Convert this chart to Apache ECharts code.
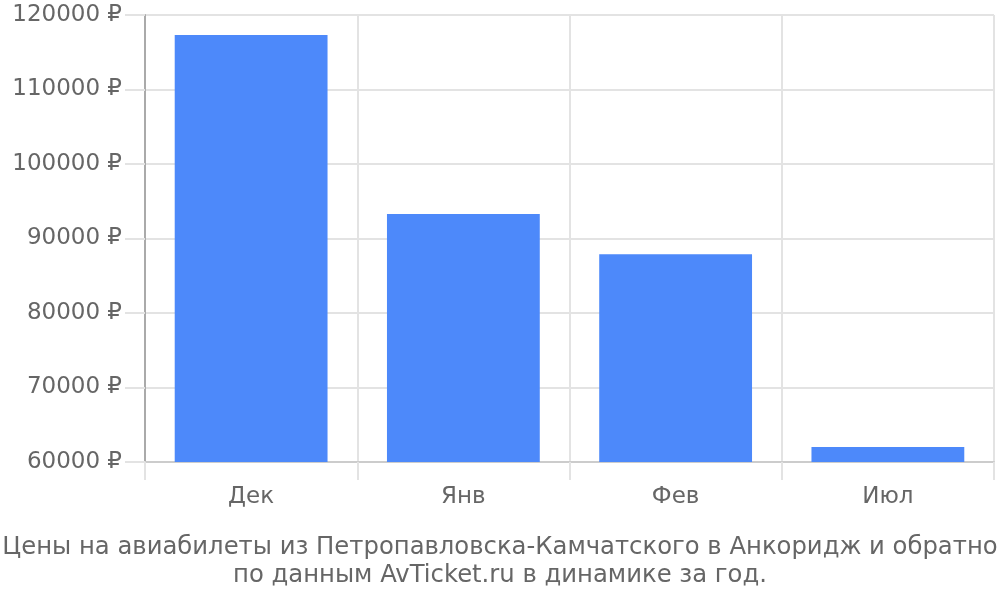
<!DOCTYPE html>
<html>
<head>
<meta charset="utf-8">
<script src="https://cdn.jsdelivr.net/npm/echarts@6/dist/echarts.min.js"></script>
<style>
  html, body { margin: 0; padding: 0; background: #fff; }
  #chart { width: 1000px; height: 600px; }
</style>
</head>
<body>
<div id="chart"></div>
<script>
// данные графика
var months = ['Дек', 'Янв', 'Фев', 'Июл'];
var prices = [117300, 93300, 87900, 62000];
var yMin = 60000;
var yMax = 120000;
var yStep = 10000;
var titleText = 'Цены на авиабилеты из Петропавловска-Камчатского в Анкоридж и обратно\nпо данным AvTicket.ru в динамике за год.';

var chart = echarts.init(document.getElementById('chart'));

var option = {
  animation: false,
  title: {
    text: titleText,
    left: 'center',
    top: 534,
    padding: 0,
    textStyle: {
      fontFamily: 'DejaVu Sans',
      fontSize: 24.3,
      fontWeight: 'normal',
      color: '#666',
      lineHeight: 28
    }
  },
  grid: {
    left: 145,
    right: 6,
    top: 15,
    bottom: 138,
    containLabel: false
  },
  xAxis: {
    type: 'category',
    data: months,
    axisLine: { show: true, lineStyle: { color: '#ccc', width: 2 } },
    axisTick: { show: true, length: 18, lineStyle: { color: '#e3e3e3', width: 2 } },
    splitLine: { show: true, lineStyle: { color: '#e3e3e3', width: 2 } },
    axisLabel: {
      margin: 24,
      fontFamily: 'DejaVu Sans',
      fontSize: 23,
      color: '#666'
    }
  },
  yAxis: {
    type: 'value',
    min: yMin,
    max: yMax,
    interval: yStep,
    axisLine: { show: true, lineStyle: { color: '#aaa', width: 2 } },
    axisTick: { show: true, length: 20, lineStyle: { color: '#e3e3e3', width: 2 } },
    splitLine: { show: true, lineStyle: { color: '#e3e3e3', width: 2 } },
    axisLabel: {
      margin: 23,
      fontFamily: 'DejaVu Sans',
      fontSize: 23,
      color: '#666',
      formatter: function (v) { return v + ' ₽'; }
    }
  },
  series: [{
    type: 'bar',
    data: prices,
    barCategoryGap: '28%',
    itemStyle: { color: '#4d89fa' }
  }]
};

chart.setOption(option);
</script>
</body>
</html>
